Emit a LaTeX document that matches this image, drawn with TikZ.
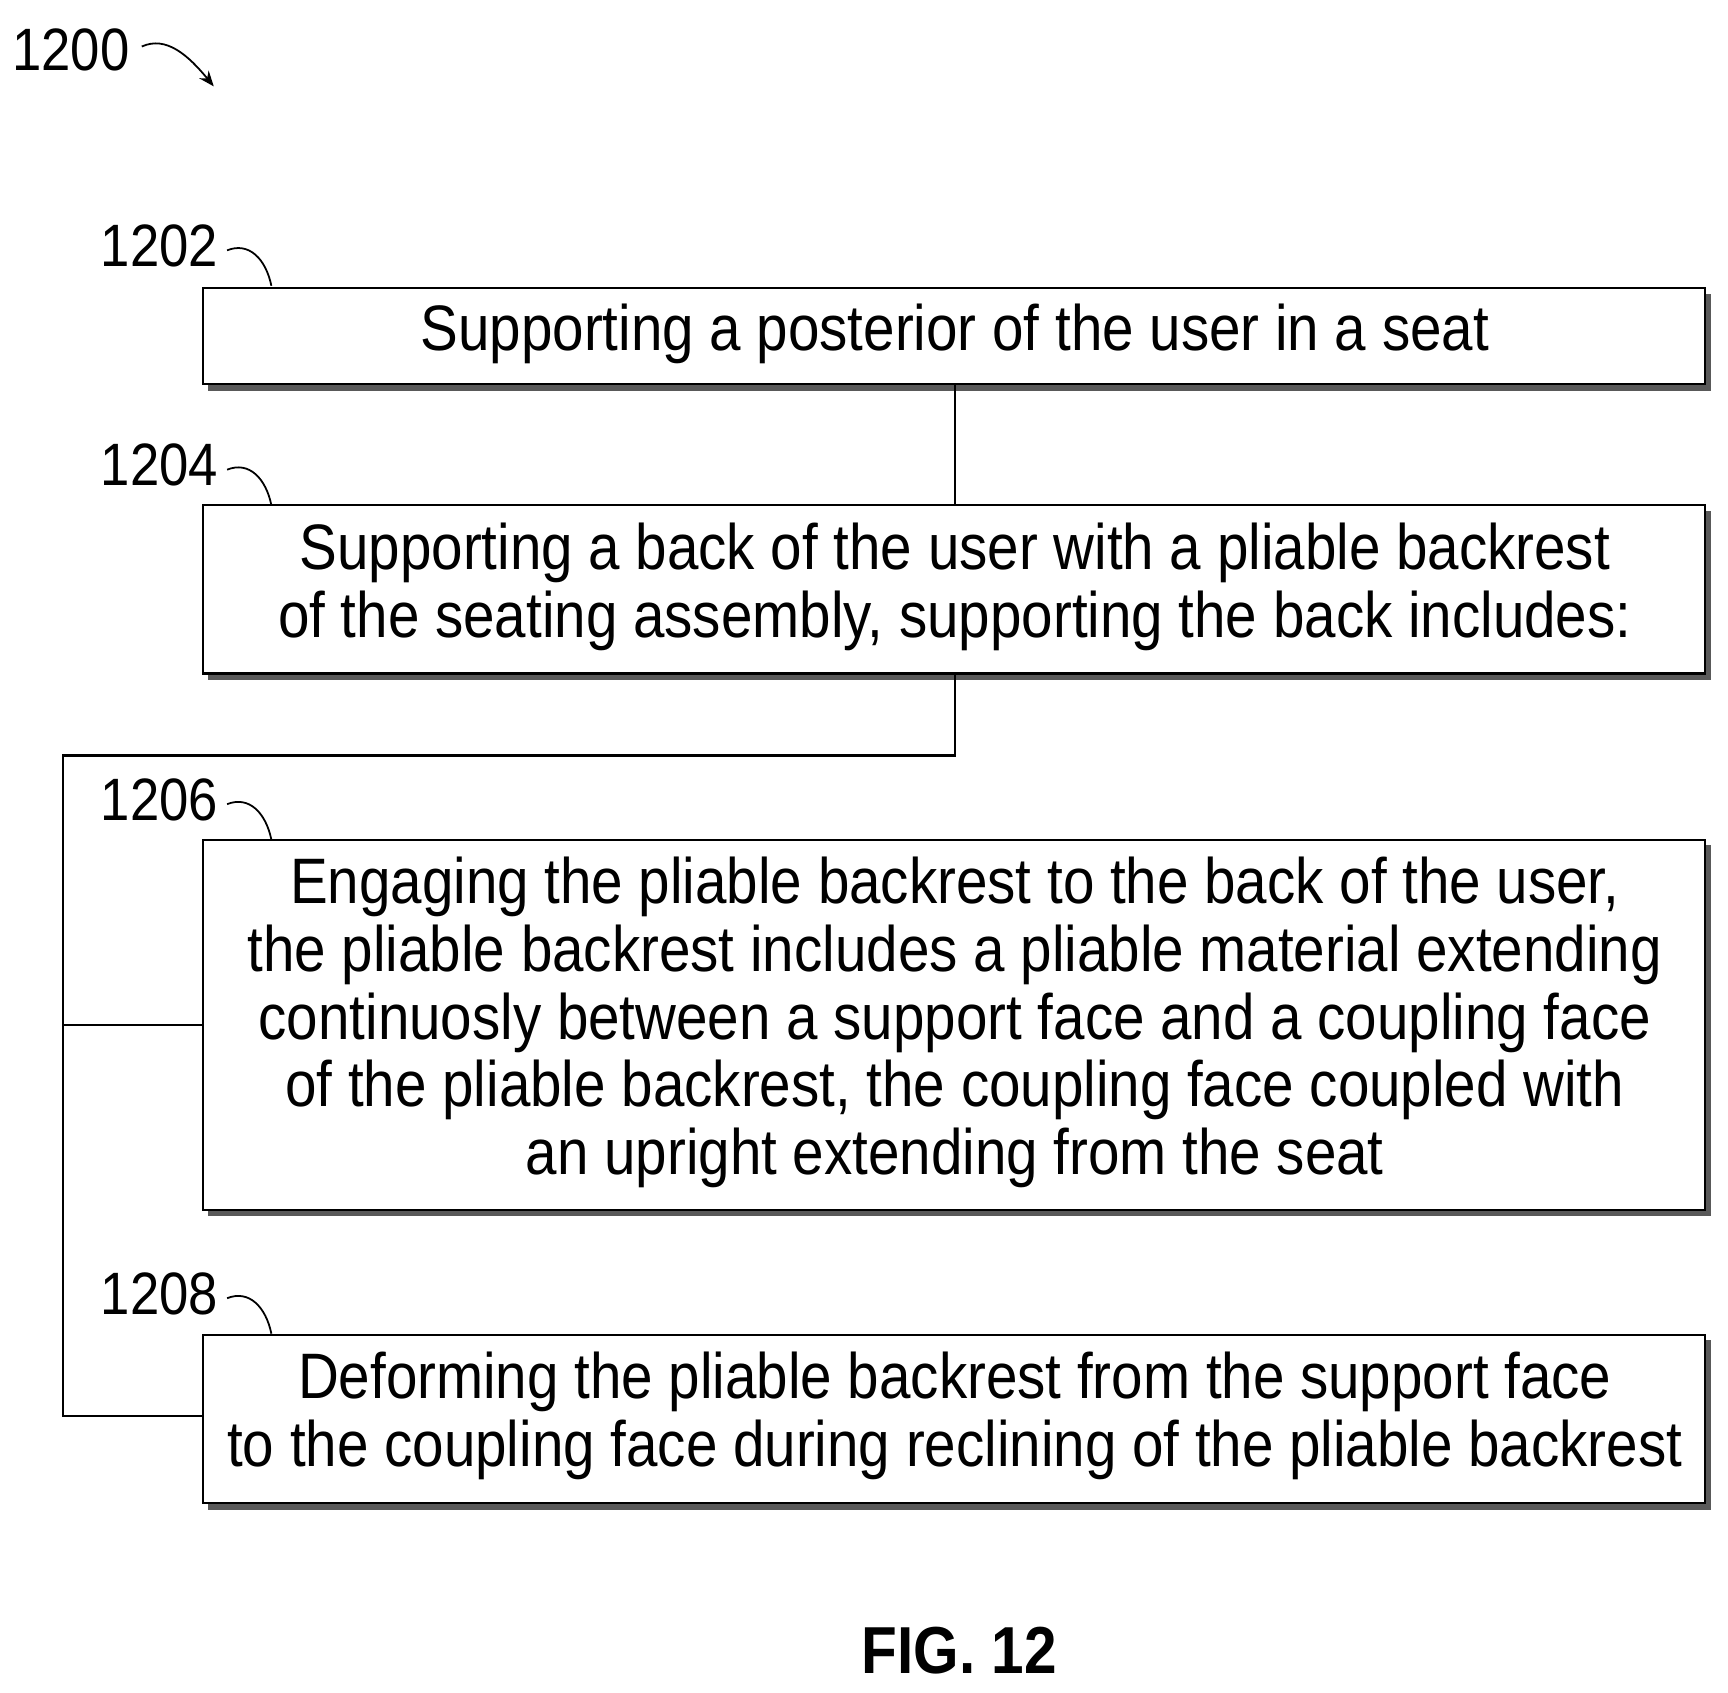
\documentclass[tikz,border=0pt]{standalone}
\usepackage{fontspec}
\setmainfont{Liberation Sans}[FakeStretch=0.88]
\usetikzlibrary{arrows.meta}
\begin{document}
\begin{tikzpicture}[x=1pt,y=-1pt,
  box/.style={draw,line width=2pt,fill=white},
  shad/.style={fill=black!65},
  txt/.style={font=\fontsize{58}{61}\selectfont,align=center,inner sep=0},
  lab/.style={font=\fontsize{54}{60}\selectfont,inner sep=0},
  ln/.style={line width=2pt},
  sq/.style={line width=1.6pt}]
\useasboundingbox (0,0) rectangle (1560,1528);
% boxes
\foreach \t/\b/\n in {260/347/b1,456/608/b2,758/1092/b3,1205/1357/b4}{
  \fill[shad] (188,\t+5) rectangle (1545,\b+6);
  \draw[box] (183,\t) rectangle (1539,\b);
  \coordinate (\n) at (862,{(\t+\b)/2});
}
\node[txt] (t1) at (862,301) {Supporting a posterior of the user in a seat};
\node[txt] (t2) at (862,530) {Supporting a back of the user with a pliable backrest\\of the seating assembly, supporting the back includes:};
\node[txt] (t3) at (862,923) {Engaging the pliable backrest to the back of the user,\\the pliable backrest includes a pliable material extending\\continuosly between a support face and a coupling face\\of the pliable backrest, the coupling face coupled with\\an upright extending from the seat};
\node[txt] (t4) at (862,1278) {Deforming the pliable backrest from the support face\\to the coupling face during reclining of the pliable backrest};
% connectors
\coordinate (c1) at (862,347); \coordinate (c2) at (862,456);
\coordinate (c3) at (862,608); \coordinate (c4) at (862,682);
\coordinate (c5) at (57,682); \coordinate (c6) at (57,1278);
\coordinate (c7) at (57,925); \coordinate (c8) at (183,925);
\coordinate (c9) at (183,1278);
\draw[ln] (c1) -- (c2);
\draw[ln] (c3) -- (c4) -- (c5) -- (c6) -- (c9);
\draw[ln] (c7) -- (c8);
% labels
\foreach \y/\l in {222/1202,420/1204,722/1206,1168/1208}{
  \node[lab] (L\l) at (144,\y) {\l};
  \draw[sq] (205,\y+4) .. controls (225,\y-4) and (240,\y+12) .. (245,\y+36);
}
\node[lab] (L1200) at (64,45) {1200};
\draw[sq,-{Stealth[length=14pt,width=11pt]}] (128,42) .. controls (150,32) and (170,50) .. (193,78);
\node[font=\fontsize{60}{60}\selectfont\bfseries,inner sep=0] (fig) at (866,1490) {FIG. 12};
\end{tikzpicture}
\end{document}
